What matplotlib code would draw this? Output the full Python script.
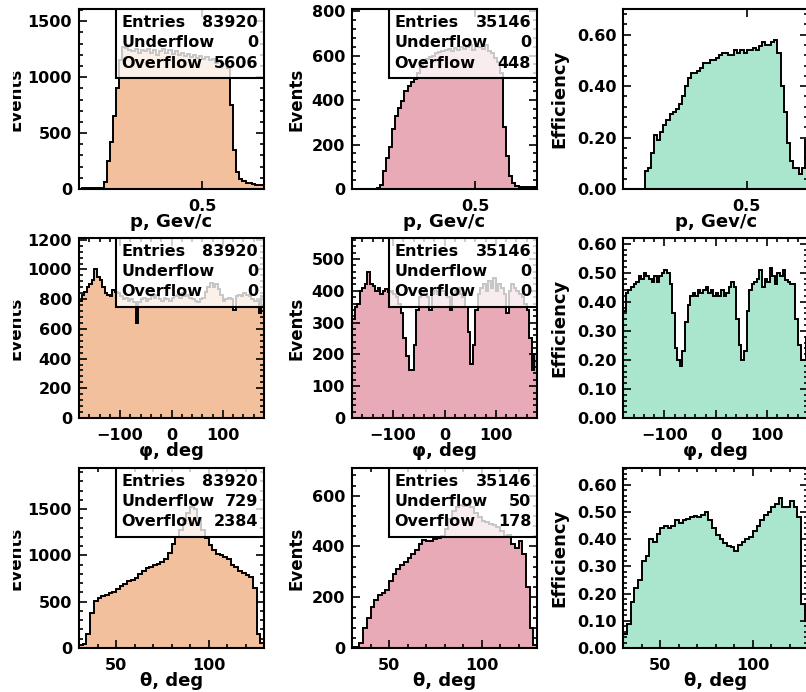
import matplotlib.pyplot as plt
import numpy as np
from matplotlib.patches import Rectangle
from matplotlib.ticker import AutoMinorLocator, FormatStrFormatter, MultipleLocator, NullLocator
from matplotlib.transforms import Bbox, TransformedBbox

plt.rcParams['font.family'] = ['DejaVu Sans']
plt.rcParams['font.weight'] = 'bold'
plt.rcParams['axes.labelweight'] = 'bold'

# histogram ranges / binning
P_RANGE = (0.1, 0.7)
P_BINS = 60
PHI_RANGE = (-180, 180)
PHI_BINS = 72
THETA_RANGE = (30, 130)
THETA_BINS = 50

# momentum, all tracks (bins of 0.01 from 0.10)
p_all = [0, 5, 5, 5, 5, 5, 5, 10, 60, 250,
         420, 650, 900, 1150, 1270, 1260, 1240, 1230, 1250, 1220,
         1240, 1230, 1250, 1220, 1240, 1200, 1230, 1250, 1220, 1240,
         1210, 1230, 1200, 1220, 1190, 1210, 1180, 1200, 1170, 1190,
         1160, 1180, 1150, 1160, 1130, 1150, 1120, 1120, 1080, 750,
         350, 150, 90, 70, 55, 50, 45, 40, 40, 35]
# momentum, reconstructed tracks
p_rec = [0, 0, 0, 0, 0, 0, 0, 2, 5, 20,
         80, 140, 190, 270, 330, 365, 395, 440, 465, 480,
         495, 520, 550, 570, 585, 595, 600, 610, 615, 620,
         625, 630, 620, 635, 625, 640, 630, 640, 645, 625,
         650, 640, 630, 645, 620, 610, 590, 570, 520, 280,
         150, 60, 25, 15, 10, 8, 8, 8, 10, 10]
# momentum, efficiency
p_eff = [0, 0, 0, 0, 0, 0, 0, 0.07, 0.08, 0.14,
         0.21, 0.19, 0.22, 0.25, 0.27, 0.29, 0.30, 0.31, 0.33, 0.36,
         0.40, 0.43, 0.45, 0.45, 0.46, 0.47, 0.49, 0.49, 0.50, 0.50,
         0.51, 0.52, 0.53, 0.53, 0.52, 0.52, 0.54, 0.53, 0.54, 0.53,
         0.54, 0.54, 0.55, 0.54, 0.555, 0.57, 0.56, 0.56, 0.57, 0.58,
         0.53, 0.40, 0.30, 0.18, 0.11, 0.08, 0.08, 0.06, 0.08, 0.19]

# azimuth, all tracks (bins of 5 deg from -180)
phi_all = [790, 830, 850, 880, 900, 930, 1000, 950, 930, 880,
           840, 830, 820, 860, 850, 840, 820, 800, 810, 790,
           800, 780, 640, 780, 800, 810, 790, 800, 820, 810,
           830, 800, 790, 810, 800, 790, 810, 820, 830, 810,
           840, 820, 830, 810, 800, 790, 780, 800, 810, 850,
           880, 910, 880, 900, 870, 830, 790, 800, 810, 800,
           730, 820, 830, 820, 840, 830, 820, 800, 790, 790,
           710, 820]
# azimuth, reconstructed tracks
phi_rec = [310, 350, 360, 400, 410, 420, 460, 420, 415, 400,
           410, 390, 400, 405, 395, 400, 390, 380, 360, 330,
           250, 195, 150, 150, 230, 340, 380, 390, 400, 380,
           340, 390, 400, 390, 410, 400, 390, 380, 340, 390,
           400, 410, 390, 380, 350, 270, 170, 230, 340, 390,
           410, 420, 400, 430, 410, 440, 400, 420, 410, 390,
           330, 400, 420, 410, 400, 390, 380, 360, 340, 250,
           150, 200]
# azimuth, efficiency
phi_eff = [0.37, 0.43, 0.44, 0.45, 0.46, 0.47, 0.49, 0.48, 0.50, 0.49,
           0.48, 0.47, 0.49, 0.47, 0.49, 0.50, 0.51, 0.50, 0.46, 0.36,
           0.24, 0.20, 0.18, 0.23, 0.33, 0.39, 0.42, 0.43, 0.42, 0.44,
           0.43, 0.44, 0.45, 0.43, 0.44, 0.42, 0.43, 0.42, 0.44, 0.42,
           0.43, 0.45, 0.47, 0.45, 0.34, 0.25, 0.20, 0.23, 0.37, 0.44,
           0.46, 0.47, 0.48, 0.51, 0.45, 0.48, 0.47, 0.515, 0.49, 0.46,
           0.50, 0.49, 0.51, 0.475, 0.47, 0.46, 0.46, 0.34, 0.25, 0.20,
           0.20, 0.28]

# polar angle, all tracks (bins of 2 deg from 30)
theta_all = [30, 40, 150, 380, 510, 545, 560, 570, 590, 610,
             640, 670, 690, 720, 740, 760, 800, 830, 860, 880,
             900, 910, 930, 960, 1030, 1120, 1200, 1280, 1380, 1460,
             1520, 1500, 1400, 1280, 1190, 1110, 1060, 1020, 1000, 980,
             960, 900, 870, 830, 810, 790, 770, 650, 150, 50]
# polar angle, reconstructed tracks
theta_rec = [5, 5, 20, 80, 120, 160, 190, 210, 215, 230,
             265, 290, 310, 325, 340, 355, 370, 385, 410, 425,
             420, 420, 430, 435, 440, 470, 510, 540, 555, 565,
             560, 565, 555, 530, 515, 500, 495, 490, 485, 475,
             460, 440, 445, 410, 395, 420, 370, 240, 80, 10]
# polar angle, efficiency
theta_eff = [0.05, 0.09, 0.17, 0.22, 0.25, 0.32, 0.34, 0.40, 0.39, 0.42,
             0.44, 0.45, 0.44, 0.45, 0.47, 0.46, 0.47, 0.475, 0.48, 0.485,
             0.48, 0.49, 0.50, 0.47, 0.44, 0.415, 0.40, 0.385, 0.375, 0.37,
             0.355, 0.38, 0.39, 0.40, 0.41, 0.43, 0.45, 0.47, 0.49, 0.50,
             0.52, 0.53, 0.55, 0.52, 0.52, 0.54, 0.52, 0.48, 0.16, 0.10]

# stats box contents: entries, underflow, overflow
stats_all = [(83920, 0, 5606), (83920, 0, 0), (83920, 729, 2384)]
stats_rec = [(35146, 0, 448), (35146, 0, 0), (35146, 50, 178)]

x_labels = ['p, Gev/c', 'φ, deg', 'θ, deg']

COL_ALL = '#F3C09E'
COL_REC = '#E8AAB6'
COL_EFF = '#AAE6CE'

W, H = 806, 692
fig = plt.figure(figsize=(W / 100, H / 100), dpi=100)

col_left = [79, 352, 623.3]
row_top = [9, 238, 468]
ax_w, ax_h = 185, 180


def draw_panel(ax, rng, nbins, values, color, ymax, ymajor, xmajor, xminor, eff=False, stats=None):
    edges = np.linspace(rng[0], rng[1], nbins + 1)
    ax.stairs(values, edges, fill=True, color=color, lw=0, zorder=1)
    ax.stairs(values, edges, color='black', lw=1.4, zorder=2)
    ax.set_xlim(rng)
    ax.set_ylim(0, ymax)

    ax.xaxis.set_major_locator(MultipleLocator(xmajor))
    if xminor:
        ax.xaxis.set_minor_locator(AutoMinorLocator(xminor))
    else:
        ax.xaxis.set_minor_locator(NullLocator())
    ax.yaxis.set_major_locator(MultipleLocator(ymajor))
    ax.yaxis.set_minor_locator(AutoMinorLocator(5))
    if eff:
        ax.yaxis.set_major_formatter(FormatStrFormatter('%.2f'))

    ax.tick_params(which='both', direction='in', top=True, right=True, width=1.2, labelsize=11.5)
    ax.tick_params(which='major', length=6)
    ax.tick_params(which='minor', length=3)
    ax.tick_params(axis='x', pad=7)
    ax.tick_params(axis='y', pad=5)
    for s in ax.spines.values():
        s.set_linewidth(1.5)

    if stats is not None:
        # semi-transparent stats box, the histogram shows faintly through it
        ax.add_patch(Rectangle((0.2, 0.615), 0.8, 0.385, transform=ax.transAxes,
                               facecolor='white', alpha=0.78, edgecolor='none', zorder=3))
        ax.add_patch(Rectangle((0.2, 0.615), 0.8, 0.385, transform=ax.transAxes,
                               fill=False, edgecolor='black', lw=1.5, zorder=4))
        names = ['Entries', 'Underflow', 'Overflow']
        for name, val, y in zip(names, stats, [0.923, 0.812, 0.700]):
            ax.text(0.228, y, name, transform=ax.transAxes, ha='left', va='center',
                    fontsize=11.5, fontweight='bold', zorder=5)
            ax.text(0.968, y, str(val), transform=ax.transAxes, ha='right', va='center',
                    fontsize=11.5, fontweight='bold', zorder=5)


panels = [
    (P_RANGE, P_BINS, p_all, p_rec, p_eff, (1610, 809, 0.70), (500, 200, 0.2), 0.5, 0),
    (PHI_RANGE, PHI_BINS, phi_all, phi_rec, phi_eff, (1212, 566, 0.62), (200, 100, 0.1), 100, 5),
    (THETA_RANGE, THETA_BINS, theta_all, theta_rec, theta_eff, (1945, 709, 0.662), (500, 200, 0.1), 50, 5),
]

for r, (rng, nb, v_all, v_rec, v_eff, ymaxes, ymajors, xmaj, xmin) in enumerate(panels):
    axes = []
    for c in range(3):
        ax = fig.add_axes([col_left[c] / W, 1 - (row_top[r] + ax_h) / H, ax_w / W, ax_h / H])
        axes.append(ax)
    draw_panel(axes[0], rng, nb, v_all, COL_ALL, ymaxes[0], ymajors[0], xmaj, xmin, stats=stats_all[r])
    draw_panel(axes[1], rng, nb, v_rec, COL_REC, ymaxes[1], ymajors[1], xmaj, xmin, stats=stats_rec[r])
    draw_panel(axes[2], rng, nb, v_eff, COL_EFF, ymaxes[2], ymajors[2], xmaj, xmin, eff=True)

    for c, ax in enumerate(axes):
        ax.set_xlabel(x_labels[r], fontsize=13, fontweight='bold')
        ax.xaxis.set_label_coords(0.5, -0.135)
    axes[0].set_ylabel('Events', fontsize=12, fontweight='bold')
    axes[0].yaxis.set_label_coords(-0.295, 0.5)
    # the left-most label is cut off in the original picture
    lab = axes[0].yaxis.label
    lab.set_clip_box(TransformedBbox(Bbox([[13 / W, 0], [1, 1]]), fig.transFigure))
    lab.set_clip_on(True)
    axes[1].set_ylabel('Events', fontsize=12, fontweight='bold')
    axes[1].yaxis.set_label_coords(-0.249, 0.5)
    axes[2].set_ylabel('Efficiency', fontsize=13, fontweight='bold')
    axes[2].yaxis.set_label_coords(-0.297, 0.5)

plt.savefig('out.png', dpi=100)
